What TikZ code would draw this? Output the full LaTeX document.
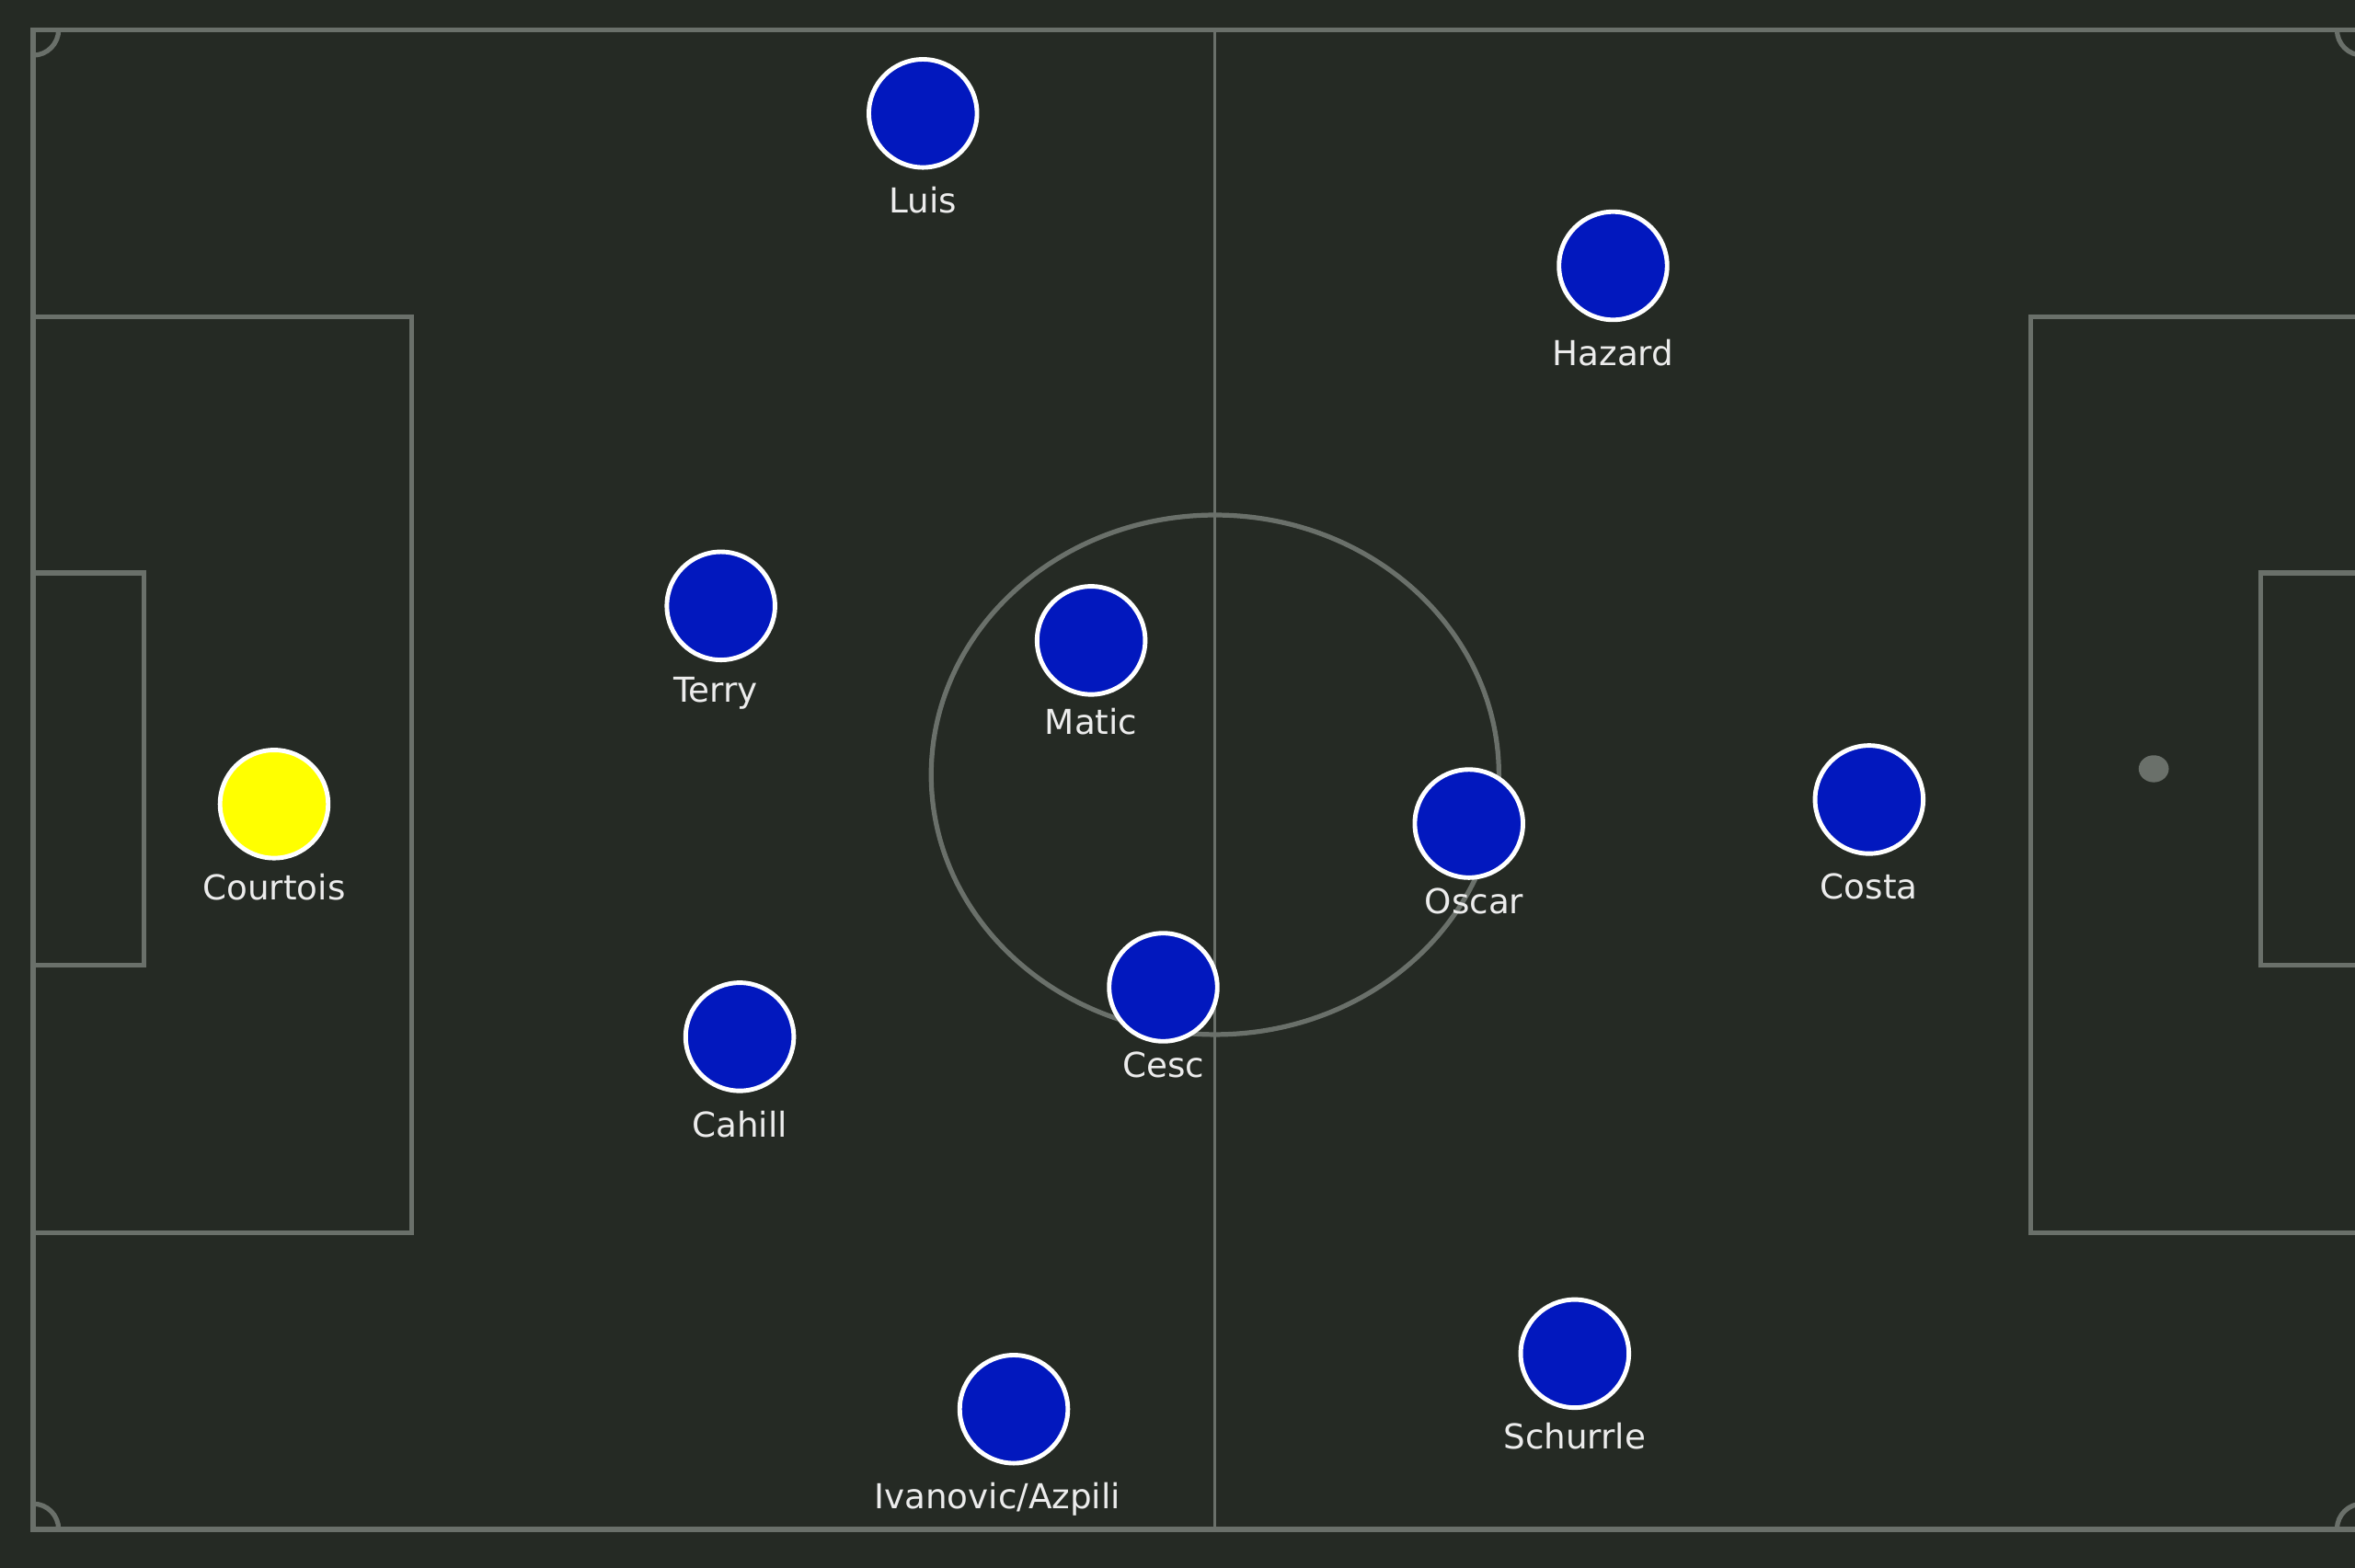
\documentclass[tikz,border=0pt]{standalone}
\usepackage{fontspec}
\setmainfont{DejaVu Sans}
\usepackage{xcolor}
\usepackage{tikz}
\usetikzlibrary{positioning}
\definecolor{pitchbg}{RGB}{37, 42, 36}
\definecolor{lineclr}{RGB}{106, 112, 106}
\definecolor{shirtblue}{RGB}{2, 24, 190}
\definecolor{keeperyellow}{RGB}{255, 255, 0}
\definecolor{labelwhite}{RGB}{236, 236, 236}

\begin{document}
\begin{tikzpicture}[
    x=0.1mm, y=-0.1mm,
    node distance=1.1mm,
    pitchline/.style={draw=lineclr, line width=0.32mm},
    player/.style={circle, draw=white, line width=0.3mm, fill=shirtblue, minimum size=7.2mm, inner sep=0pt},
    keeper/.style={player, fill=keeperyellow},
    pname/.style={font=\fontsize{6.5}{7.8}\selectfont, text=labelwhite, inner sep=0pt}
]

% Background
\fill[pitchbg] (0,0) rectangle (1568,1044.3);
\useasboundingbox (0,0) rectangle (1568,1044.3);

% Pitch markings
\draw[pitchline] (22,19.8) rectangle (1573,1018.5);
\draw[pitchline, line width=0.18mm] (809,19.8) -- (809,1018.5);
\draw[pitchline] (22,211) -| (274,821) -- (22,821);
\draw[pitchline] (22,381.5) -| (96,643) -- (22,643);
\draw[pitchline] (1573,211) -| (1352,821) -- (1573,821);
\draw[pitchline] (1573,381.5) -| (1505,643) -- (1573,643);
\draw[pitchline] (809,516) ellipse [x radius=18.9mm, y radius=17.3mm];
\fill[lineclr] (1434,512) ellipse [x radius=1mm, y radius=0.9mm];

% Corner arcs
\begin{scope}
\clip (22,19.8) rectangle (1573,1018.5);
\foreach \cx/\cy in {22/19.8, 22/1018.5, 1573/19.8, 1573/1018.5}
  \draw[pitchline] (\cx,\cy) circle [radius=1.7mm];
\end{scope}

% Players
\node[keeper] (courtois) at (182.5,535.5) {};
\node[player] (terry) at (480,403.5) {};
\node[player] (cahill) at (492.5,690.5) {};
\node[player] (luis) at (614.5,75.5) {};
\node[player] (ivanovic) at (675,938.5) {};
\node[player] (matic) at (726.5,426.5) {};
\node[player] (cesc) at (774.5,657.5) {};
\node[player] (oscar) at (978,548.5) {};
\node[player] (schurrle) at (1048.5,901.5) {};
\node[player] (hazard) at (1074,177) {};
\node[player] (costa) at (1244.5,532.5) {};

% Names
\node[pname, below=of courtois, yshift=0.3mm] (courtoisn) {Courtois};
\node[pname, below=of terry, xshift=-0.35mm, yshift=0.2mm] (terryn) {Terry};
\node[pname, below=of cahill] (cahilln) {Cahill};
\node[pname, below=of luis] (luisn) {Luis};
\node[pname, below=of ivanovic, xshift=-1.1mm] (ivanovicn) {Ivanovic/Azpili};
\node[pname, below=of matic, yshift=0.4mm] (maticn) {Matic};
\node[pname, below=of cesc, yshift=0.6mm] (cescn) {Cesc};
\node[pname, below=of oscar, xshift=0.35mm, yshift=0.6mm] (oscarn) {Oscar};
\node[pname, below=of schurrle, yshift=0.3mm] (schurrlen) {Schurrle};
\node[pname, below=of hazard] (hazardn) {Hazard};
\node[pname, below=of costa] (costan) {Costa};

\end{tikzpicture}
\end{document}
